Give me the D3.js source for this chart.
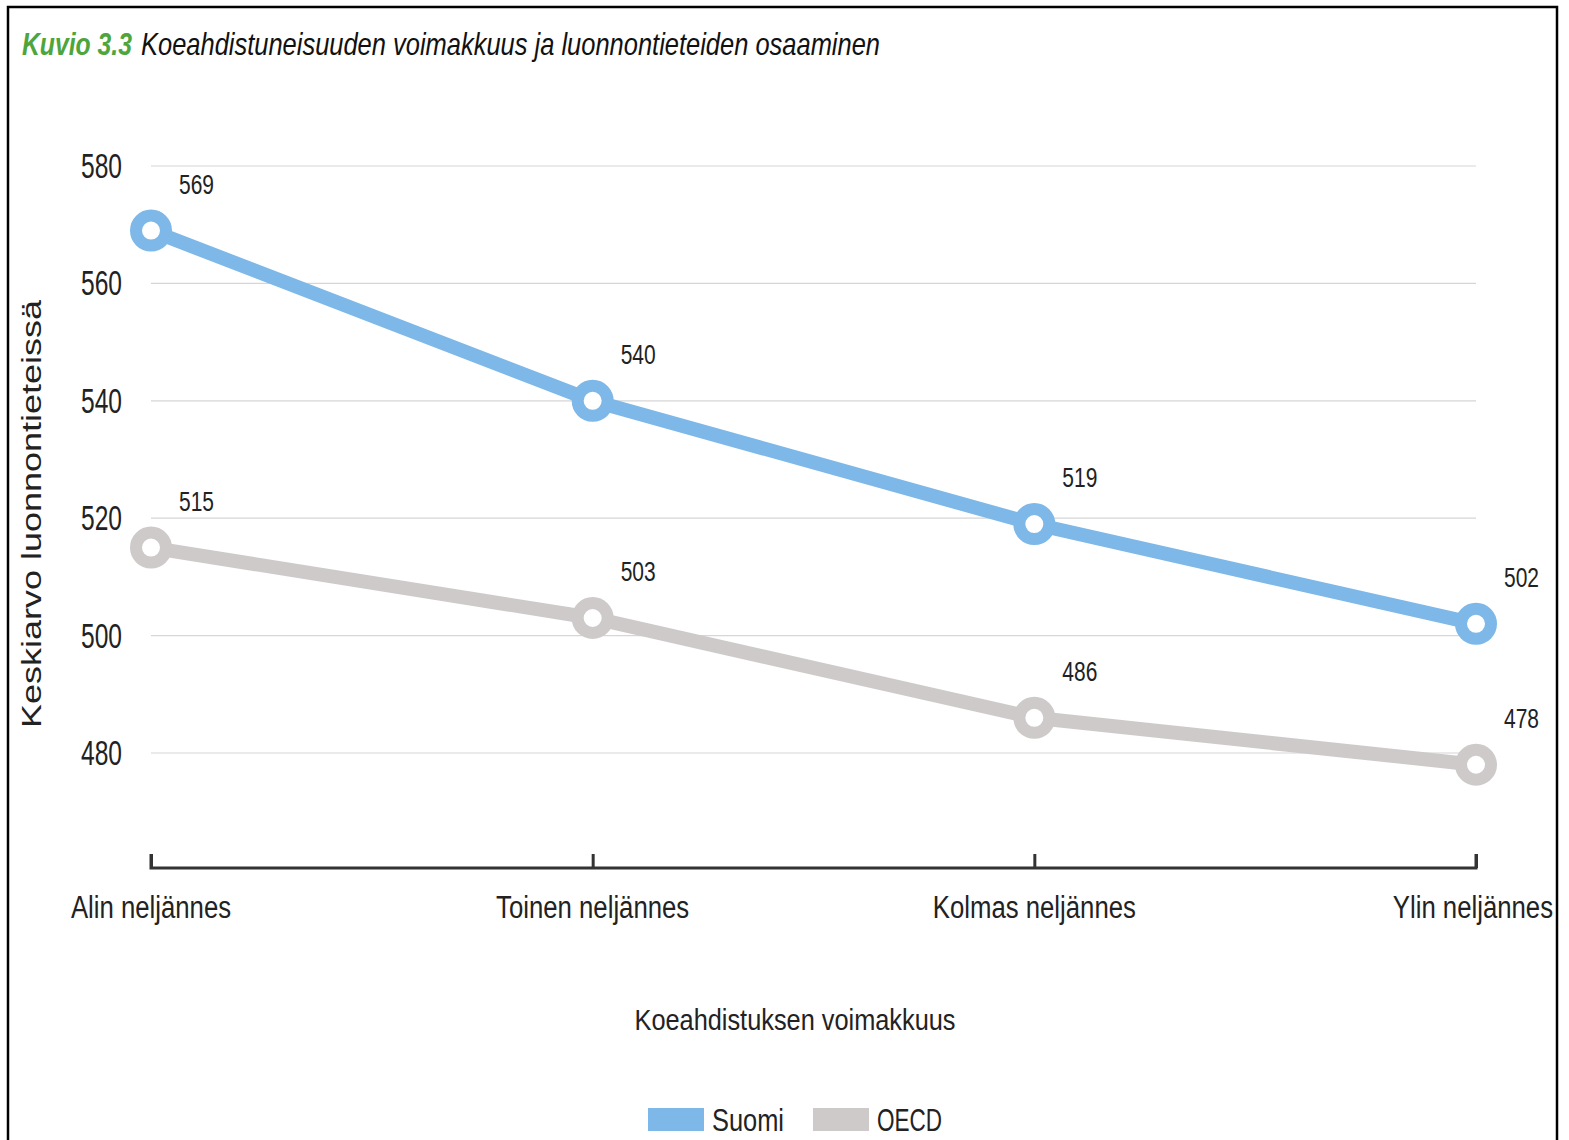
<!DOCTYPE html>
<html><head><meta charset="utf-8">
<script src="https://cdn.jsdelivr.net/npm/d3@7"></script>
<style>
body{margin:0;background:#fff;}
svg{display:block;}
text{font-family:"Liberation Sans",Arial,sans-serif;}
</style></head><body>
<svg id="c" width="1569" height="1140"></svg>
<script>
const categories = ["Alin neljännes","Toinen neljännes","Kolmas neljännes","Ylin neljännes"];
const suomi = [569,540,519,502];
const oecd = [515,503,486,478];
const yTicks = [480,500,520,540,560,580];
const seriesNames = ["Suomi","OECD"];
const colors = ["#7db8e8","#cecaca"];

const svg = d3.select("#c");
// condense text horizontally (reference uses a condensed face)
function condense(sel, f){
  sel.each(function(){
    const w = this.getComputedTextLength();
    d3.select(this).attr("textLength", w*f).attr("lengthAdjust","spacingAndGlyphs");
  });
}
function fit(sel, w){ sel.attr("textLength", w).attr("lengthAdjust","spacingAndGlyphs"); }

// frame
svg.append("rect").attr("x",8).attr("y",7).attr("width",1549).attr("height",1150)
  .attr("fill","none").attr("stroke","#000").attr("stroke-width",2.5);

// title
const title = svg.append("text").attr("x",22).attr("y",55).attr("font-style","italic").attr("font-size",32);
title.append("tspan").attr("font-weight","bold").attr("fill","#4ea53c").text("Kuvio 3.3").call(fit,110);
title.append("tspan").attr("x",141).attr("fill","#111")
  .text("Koeahdistuneisuuden voimakkuus ja luonnontieteiden osaaminen").call(fit,739);

const x = d3.scalePoint().domain(categories).range([151,1476]);
const y = d3.scaleLinear().domain([480,580]).range([753,166]);

// gridlines
svg.append("g").selectAll("line").data(yTicks).join("line")
  .attr("x1",151).attr("x2",1476).attr("y1",d=>y(d)).attr("y2",d=>y(d))
  .attr("stroke","#d6d6d6").attr("stroke-width",1.2);

// y labels
svg.append("g").selectAll("text").data(yTicks).join("text")
  .attr("x",122).attr("y",d=>y(d)+12)
  .attr("text-anchor","end").attr("font-size",35).attr("fill","#222").text(d=>d).call(fit,41);

// x axis
const xAxis = d3.axisBottom(x).tickSizeInner(-14).tickSizeOuter(-14).tickFormat("");
const gx = svg.append("g").attr("transform","translate(0,868)").call(xAxis);
gx.selectAll("path,line").attr("stroke","#333").attr("stroke-width",3);
gx.select("path").attr("d",`M${x(categories[0])},-14V0H${x(categories[3])}V-14`);

const xl = svg.append("g").selectAll("text").data(categories).join("text")
  .attr("x",d=>x(d)).attr("y",918)
  .attr("text-anchor","middle").attr("font-size",31).attr("fill","#222").text(d=>d).call(condense,0.83);
xl.filter((d,i)=>i===3).attr("text-anchor","end").attr("x",1553);

// axis titles
svg.append("text").attr("x",795).attr("y",1030)
  .attr("text-anchor","middle").attr("font-size",30).attr("fill","#222").text("Koeahdistuksen voimakkuus").call(fit,321);
svg.append("text").attr("transform","translate(41,514) rotate(-90)")
  .attr("text-anchor","middle").attr("font-family","'DejaVu Sans',Verdana,sans-serif")
  .attr("font-size",27).attr("fill","#222").text("Keskiarvo luonnontieteissä").call(fit,428);

// lines
const line = d3.line().x((d,i)=>x(categories[i])).y(d=>y(d));
[oecd,suomi].forEach((s,k)=>{
  const c = k===0?colors[1]:colors[0];
  svg.append("path").datum(s).attr("d",line).attr("fill","none")
    .attr("stroke",c).attr("stroke-width",14);
  svg.append("g").selectAll("circle").data(s).join("circle")
    .attr("cx",(d,i)=>x(categories[i])).attr("cy",d=>y(d)).attr("r",15)
    .attr("fill","#fff").attr("stroke",c).attr("stroke-width",12);
  svg.append("g").selectAll("text").data(s).join("text")
    .attr("x",(d,i)=>x(categories[i])+28).attr("y",d=>y(d)-37)
    .attr("font-size",28).attr("fill","#222").text(d=>d).call(fit,35);
});

// legend
const lx = [648,813];
const lw = [72,65];
seriesNames.forEach((n,i)=>{
  svg.append("rect").attr("x",lx[i]).attr("y",1108).attr("width",56).attr("height",23).attr("fill",colors[i]);
  svg.append("text").attr("x",lx[i]+64).attr("y",1131)
    .attr("font-size",32).attr("fill","#222").text(n).call(fit,lw[i]);
});
</script></body></html>
